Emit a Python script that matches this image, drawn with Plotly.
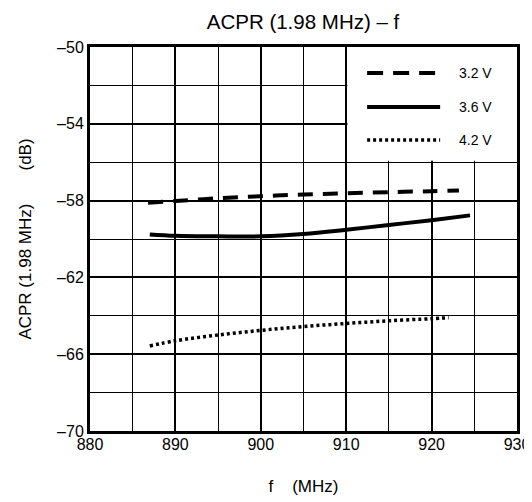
import plotly.graph_objects as go

f_32 = [886.8, 890, 895, 900, 905, 910, 915, 920, 923.2]
v_32 = [-58.11, -58.02, -57.88, -57.77, -57.68, -57.62, -57.56, -57.51, -57.47]

f_36 = [887, 890, 895, 900, 905, 910, 915, 920, 924.5]
v_36 = [-59.76, -59.83, -59.86, -59.86, -59.74, -59.52, -59.27, -59.02, -58.77]

f_42 = [887, 890, 895, 900, 905, 910, 915, 920, 922]
v_42 = [-65.57, -65.3, -65.0, -64.76, -64.56, -64.4, -64.26, -64.15, -64.1]

series_names = ["3.2 V", "3.6 V", "4.2 V"]
x_ticks = [880, 890, 900, 910, 920, 930]
y_ticks = [-70, -66, -62, -58, -54, -50]
y_tick_text = ["\u201370", "\u201366", "\u201362", "\u201358", "\u201354", "\u201350"]

FONT = "Liberation Sans, Arial, sans-serif"
SP = "\u00a0"

fig = go.Figure()
fig.add_trace(go.Scatter(x=f_32, y=v_32, mode="lines", line=dict(color="black", width=4, dash="15px,10px", shape="spline"), showlegend=False))
fig.add_trace(go.Scatter(x=f_36, y=v_36, mode="lines", line=dict(color="black", width=4, shape="spline"), showlegend=False))
fig.add_trace(go.Scatter(x=f_42, y=v_42, mode="lines", line=dict(color="black", width=3.5, dash="3px,3px", shape="spline"), showlegend=False))

# white legend panel covering the grid in the upper right
fig.add_shape(type="rect", xref="x", yref="y", x0=910.15, x1=930, y0=-55.93, y1=-50,
              fillcolor="white", line=dict(width=0), layer="between")

# manual legend
L_l, L_r, ys = 0.649, 0.82, [0.932, 0.844, 0.758]
dashes = ["16px,10px", "solid", "3px,3px"]
widths = [4, 4, 3.5]
for name, yy, d, w in zip(series_names, ys, dashes, widths):
    fig.add_shape(type="line", xref="paper", yref="paper", x0=L_l, x1=L_r, y0=yy, y1=yy,
                  line=dict(color="black", width=w, dash=d), layer="above")
    fig.add_annotation(xref="paper", yref="paper", x=0.86, y=yy, text=name, showarrow=False,
                       xanchor="left", yanchor="middle", font=dict(family=FONT, size=14, color="black"))

fig.update_layout(
    width=524, height=494,
    margin=dict(l=82, r=15, t=39, b=71, autoexpand=False),
    paper_bgcolor="white", plot_bgcolor="white",
    font=dict(family=FONT, size=16, color="black"),
    title=dict(text="ACPR (1.98 MHz) \u2013 f", x=0.563, xanchor="center", y=0.972, yanchor="middle",
               font=dict(family=FONT, size=20.5, color="black")),
    showlegend=False,
)
fig.update_xaxes(
    range=[880, 930], tickvals=x_ticks, ticktext=[str(v) for v in x_ticks],
    showgrid=True, gridcolor="black", gridwidth=2,
    minor=dict(dtick=5, tick0=880, showgrid=True, gridcolor="black", gridwidth=1),
    showline=True, linecolor="black", linewidth=3, mirror=True,
    ticks="", ticklabelstandoff=-3, zeroline=False, automargin=False,
    title=dict(text="f" + SP * 4 + "(MHz)", standoff=28, font=dict(family=FONT, size=17)),
)
fig.update_yaxes(
    range=[-70, -50], tickvals=y_ticks, ticktext=y_tick_text,
    showgrid=True, gridcolor="black", gridwidth=2,
    minor=dict(dtick=2, tick0=-70, showgrid=True, gridcolor="black", gridwidth=1),
    showline=True, linecolor="black", linewidth=3, mirror=True,
    ticks="", ticklabelstandoff=0, zeroline=False, automargin=False,
    title=dict(text="ACPR (1.98 MHz)" + SP * 7 + "(dB)", standoff=22, font=dict(family=FONT, size=17)),
)

fig.write_html("out.html")
